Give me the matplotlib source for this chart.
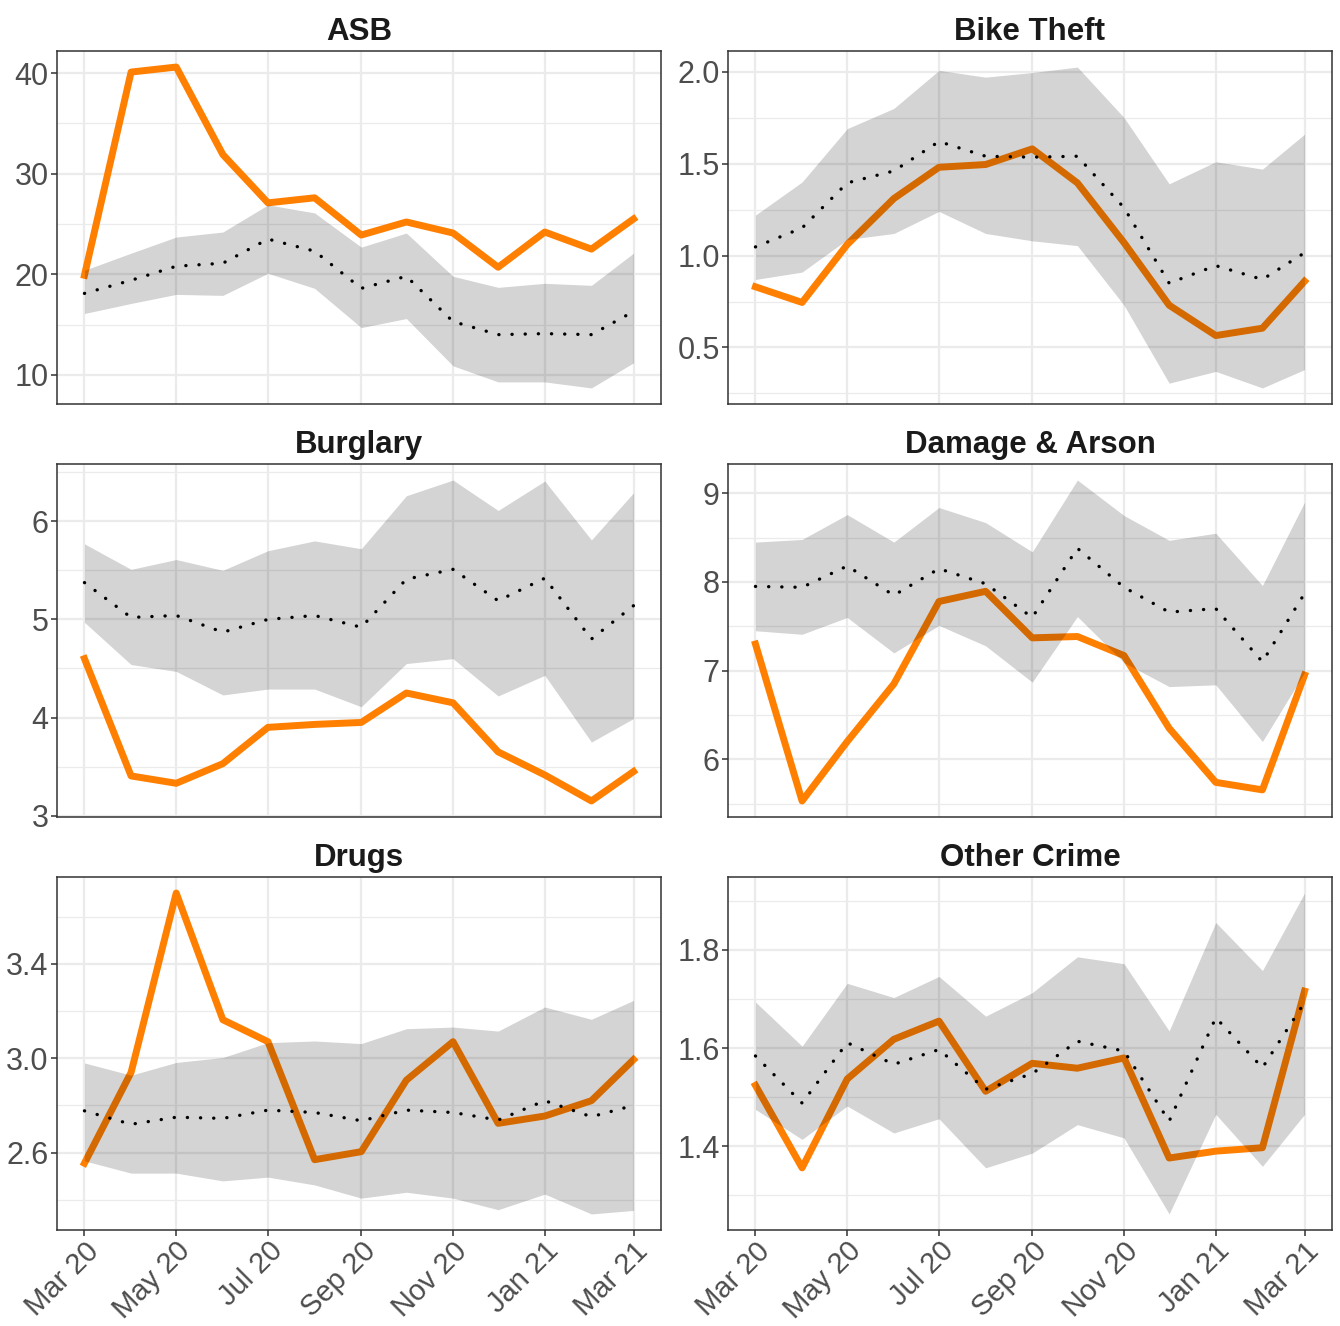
import numpy as np
import pandas as pd
import matplotlib
matplotlib.use("Agg")
import matplotlib.pyplot as plt
import matplotlib.dates as mdates
from matplotlib.ticker import MultipleLocator, FormatStrFormatter

plt.rcParams['font.family'] = ['Liberation Sans', 'DejaVu Sans']

# monthly data, Mar 2020 - Mar 2021
months = pd.date_range("2020-03-01", "2021-03-01", freq="MS")

asb_obs = [19.9, 40.1, 40.6, 31.9, 27.1, 27.6, 23.9, 25.2, 24.1, 20.7, 24.2, 22.5, 25.5]
asb_mean = [18.1, 19.4, 20.8, 21.1, 23.5, 22.3, 18.6, 19.8, 15.3, 14.0, 14.1, 14.0, 16.3]
asb_hi = [20.4, 22.1, 23.7, 24.2, 26.9, 26.1, 22.7, 24.1, 19.8, 18.7, 19.1, 18.9, 22.1]
asb_lo = [16.1, 17.1, 18.0, 17.9, 20.1, 18.6, 14.7, 15.6, 10.9, 9.3, 9.3, 8.7, 11.2]

bike_obs = [0.83, 0.745, 1.06, 1.31, 1.48, 1.495, 1.58, 1.395, 1.07, 0.73, 0.565, 0.605, 0.86]
bike_mean = [1.047, 1.15, 1.395, 1.46, 1.62, 1.54, 1.535, 1.54, 1.26, 0.85, 0.945, 0.87, 1.015]
bike_hi = [1.22, 1.40, 1.69, 1.80, 2.007, 1.97, 1.995, 2.025, 1.75, 1.39, 1.51, 1.47, 1.66]
bike_lo = [0.87, 0.91, 1.087, 1.12, 1.24, 1.12, 1.08, 1.054, 0.73, 0.306, 0.37, 0.28, 0.38]

burg_obs = [4.60, 3.405, 3.33, 3.53, 3.90, 3.93, 3.95, 4.25, 4.15, 3.65, 3.415, 3.15, 3.45]
burg_mean = [5.375, 5.02, 5.04, 4.87, 5.0, 5.04, 4.92, 5.41, 5.51, 5.19, 5.42, 4.80, 5.14]
burg_hi = [5.77, 5.51, 5.61, 5.50, 5.70, 5.80, 5.72, 6.26, 6.42, 6.11, 6.41, 5.81, 6.29]
burg_lo = [4.97, 4.54, 4.47, 4.23, 4.29, 4.29, 4.11, 4.55, 4.60, 4.22, 4.43, 3.75, 3.99]

dmg_obs = [7.30, 5.53, 6.20, 6.85, 7.78, 7.895, 7.37, 7.385, 7.17, 6.35, 5.74, 5.655, 6.95]
dmg_mean = [7.95, 7.94, 8.18, 7.85, 8.15, 7.98, 7.60, 8.38, 7.94, 7.66, 7.70, 7.10, 7.87]
dmg_hi = [8.45, 8.48, 8.76, 8.45, 8.84, 8.67, 8.34, 9.15, 8.75, 8.47, 8.55, 7.96, 8.90]
dmg_lo = [7.45, 7.41, 7.60, 7.20, 7.51, 7.28, 6.87, 7.61, 7.09, 6.82, 6.84, 6.20, 6.98]

drug_obs = [2.555, 2.94, 3.70, 3.163, 3.07, 2.57, 2.604, 2.907, 3.07, 2.724, 2.755, 2.82, 2.994]
drug_mean = [2.777, 2.72, 2.75, 2.745, 2.78, 2.77, 2.735, 2.78, 2.77, 2.738, 2.82, 2.752, 2.80]
drug_hi = [2.98, 2.928, 2.982, 3.003, 3.066, 3.073, 3.062, 3.125, 3.132, 3.115, 3.217, 3.165, 3.245]
drug_lo = [2.565, 2.513, 2.513, 2.48, 2.496, 2.463, 2.407, 2.432, 2.407, 2.358, 2.424, 2.34, 2.355]

oth_obs = [1.524, 1.356, 1.537, 1.618, 1.655, 1.512, 1.569, 1.559, 1.580, 1.376, 1.39, 1.397, 1.716]
oth_mean = [1.584, 1.488, 1.611, 1.567, 1.597, 1.516, 1.548, 1.614, 1.594, 1.451, 1.662, 1.56, 1.693]
oth_hi = [1.694, 1.604, 1.732, 1.703, 1.746, 1.665, 1.713, 1.786, 1.772, 1.635, 1.856, 1.758, 1.916]
oth_lo = [1.475, 1.414, 1.482, 1.427, 1.456, 1.356, 1.386, 1.444, 1.417, 1.262, 1.465, 1.359, 1.465]

titles = ["ASB", "Bike Theft", "Burglary", "Damage & Arson", "Drugs", "Other Crime"]
panels = [
    (asb_obs, asb_mean, asb_lo, asb_hi),
    (bike_obs, bike_mean, bike_lo, bike_hi),
    (burg_obs, burg_mean, burg_lo, burg_hi),
    (dmg_obs, dmg_mean, dmg_lo, dmg_hi),
    (drug_obs, drug_mean, drug_lo, drug_hi),
    (oth_obs, oth_mean, oth_lo, oth_hi),
]
# (major step, minor step, offset, label format)
yticks = [
    (10, 5, 0, "%d"),
    (0.5, 0.25, 0, "%.1f"),
    (1, 0.5, 0, "%d"),
    (1, 0.5, 0, "%d"),
    (0.4, 0.2, 0.2, "%.1f"),
    (0.2, 0.1, 0, "%.1f"),
]

fig = plt.figure(figsize=(13.4, 13.26), dpi=100)
lefts = [57 / 1340, 728 / 1340]
bottoms = [(1326 - 404) / 1326, (1326 - 817) / 1326, (1326 - 1230) / 1326]
w = 604 / 1340
h = 353 / 1326

for k, (obs, mean, lo, hi) in enumerate(panels):
    row, col = k // 2, k % 2
    ax = fig.add_axes([lefts[col], bottoms[row], w, h])
    ax.set_axisbelow(True)

    ax.plot(months, obs, color="#FF7F00", linewidth=5, solid_joinstyle="round", zorder=2)
    ax.fill_between(months, lo, hi, color="black", alpha=0.17, linewidth=0, zorder=3)
    ax.plot(months, mean, color="black", linewidth=2.4, linestyle=(0, (0.05, 3.9)),
            dash_capstyle="round", zorder=4)

    ax.margins(x=0.05, y=0.05)

    major, minor, off, fmt = yticks[k]
    ax.yaxis.set_major_locator(MultipleLocator(major, offset=off))
    ax.yaxis.set_minor_locator(MultipleLocator(minor))
    ax.yaxis.set_major_formatter(FormatStrFormatter(fmt))

    ax.xaxis.set_major_locator(mdates.MonthLocator(bymonth=[1, 3, 5, 7, 9, 11]))
    ax.xaxis.set_major_formatter(mdates.DateFormatter("%b %y"))

    ax.grid(which="major", color="#EBEBEB", linewidth=1.6)
    ax.grid(which="minor", axis="y", color="#EBEBEB", linewidth=0.9)

    for s in ax.spines.values():
        s.set_color("#333333")
        s.set_linewidth(1.1)

    ax.tick_params(axis="both", which="major", color="#333333", width=1.1, length=4,
                   labelsize=22, labelcolor="#4D4D4D", pad=2)
    ax.tick_params(axis="both", which="minor", length=0)

    if row < 2:
        ax.tick_params(axis="x", which="major", length=0, labelbottom=False)
    else:
        ax.tick_params(axis="x", which="major", pad=1, labelsize=21)
        for lab in ax.get_xticklabels():
            lab.set_rotation(45)
            lab.set_ha("right")
            lab.set_va("top")
            lab.set_rotation_mode("anchor")

    ax.set_title(titles[k], fontsize=22.5, fontweight="bold", color="#1A1A1A", pad=8)

fig.savefig("out.png", dpi=100, facecolor="white")
